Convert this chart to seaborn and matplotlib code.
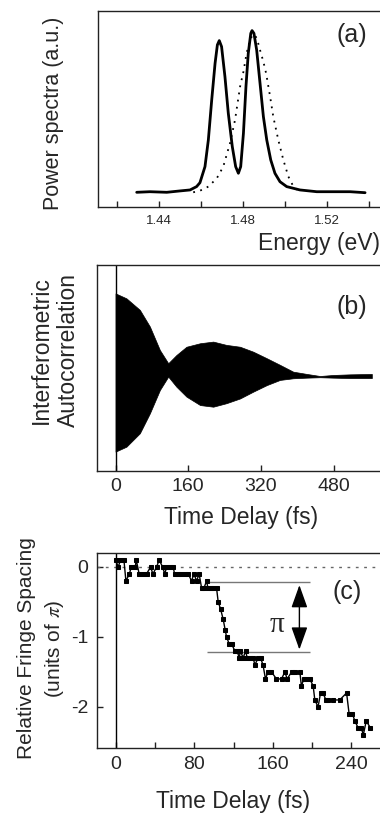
import matplotlib
matplotlib.use("Agg")
import matplotlib.pyplot as plt
import numpy as np
import pandas as pd
import seaborn as sns

# ---- panel (a): power spectra ----
energy_solid = [1.4294, 1.4357, 1.4437, 1.4500, 1.4548, 1.4579, 1.4595, 1.4619, 1.4635, 1.4651,
                1.4667, 1.4678, 1.4687, 1.4698, 1.4714, 1.4730, 1.4749, 1.4765, 1.4778, 1.4789,
                1.4802, 1.4814, 1.4825, 1.4837, 1.4843, 1.4852, 1.4865, 1.4881, 1.4897, 1.4913,
                1.4932, 1.4952, 1.4976, 1.5008, 1.5071, 1.5151, 1.5230, 1.5310, 1.5381]
power_solid = [0.075, 0.078, 0.075, 0.082, 0.087, 0.104, 0.124, 0.206, 0.342, 0.546,
               0.733, 0.827, 0.849, 0.818, 0.665, 0.478, 0.308, 0.206, 0.172, 0.206,
               0.376, 0.614, 0.784, 0.886, 0.900, 0.886, 0.801, 0.631, 0.461, 0.342,
               0.240, 0.172, 0.129, 0.104, 0.087, 0.078, 0.078, 0.078, 0.073]
energy_dotted = [1.4563, 1.4595, 1.4635, 1.4675, 1.4706, 1.4738, 1.4762, 1.4786, 1.4802, 1.4817,
                 1.4833, 1.4846, 1.4857, 1.4868, 1.4881, 1.4897, 1.4910, 1.4929, 1.4944, 1.4968,
                 1.4992, 1.5016, 1.5040, 1.5071]
power_dotted = [0.075, 0.083, 0.104, 0.146, 0.206, 0.325, 0.444, 0.614, 0.690, 0.784,
                0.852, 0.878, 0.878, 0.852, 0.801, 0.741, 0.682, 0.563, 0.461, 0.342,
                0.240, 0.155, 0.104, 0.078]

# ---- panel (b): fringe envelope of the autocorrelation ----
delay_b = [0, 24, 53.5, 75.6, 97.6, 116, 134, 156, 186, 215, 244, 274, 303, 333, 362,
           391, 421, 450, 479, 516, 564]
upper_b = [0.862, 0.838, 0.782, 0.701, 0.587, 0.523, 0.563, 0.603, 0.620, 0.628, 0.612,
           0.603, 0.579, 0.547, 0.515, 0.482, 0.471, 0.461, 0.466, 0.469, 0.471]
lower_b = [0.094, 0.118, 0.183, 0.280, 0.393, 0.458, 0.409, 0.361, 0.320, 0.312, 0.329,
           0.352, 0.385, 0.417, 0.442, 0.450, 0.453, 0.455, 0.453, 0.451, 0.451]

# ---- panel (c): relative fringe spacing (units of pi) ----
delay_c = [0, 2.7, 5, 8.5, 10.5, 14, 16, 20, 21, 24, 28, 31.5, 35.6, 38, 41.7, 44.4, 47.8,
           50, 52, 55, 58.6, 60, 63.7, 67, 70.5, 74, 77.3, 79.7, 82.4, 85, 87.5, 90, 92.5,
           94, 96.6, 99, 102.7, 104.4, 106.8, 109.5, 111.5, 112.9, 115.6, 118, 121.4, 123.7,
           125.8, 127, 129.8, 132.2, 134, 136.6, 140, 141.7, 145, 147.5, 150, 152.5, 155,
           158.6, 163.7, 168.8, 172.2, 174.6, 179, 182.4, 187.5, 189, 191.5, 194, 197.6, 201,
           202.7, 206, 208.5, 211, 214, 216, 221, 228, 235, 237.6, 241, 243.4, 246.8, 250,
           252, 255, 259.3]
spacing_c = [0.1, 0.0, 0.1, 0.1, -0.2, -0.1, 0.0, 0.0, 0.1, -0.1, -0.1, -0.1, 0.0, -0.1, 0.0,
             0.1, 0.0, -0.1, 0.0, 0.0, 0.0, -0.1, -0.1, -0.1, -0.1, -0.1, -0.2, -0.1, -0.2, -0.1,
             -0.3, -0.3, -0.2, -0.3, -0.3, -0.3, -0.3, -0.5, -0.6, -0.75, -0.9, -1.0, -1.1, -1.1,
             -1.2, -1.2, -1.3, -1.2, -1.3, -1.2, -1.3, -1.3, -1.3, -1.4, -1.3, -1.3, -1.4, -1.6,
             -1.5, -1.5, -1.6, -1.6, -1.5, -1.6, -1.5, -1.5, -1.5, -1.7, -1.6, -1.6, -1.6, -1.7,
             -1.9, -2.0, -1.8, -1.8, -1.9, -1.9, -1.9, -1.9, -1.8, -2.1, -2.1, -2.2, -2.3, -2.3,
             -2.4, -2.2, -2.3]
pi_levels = [-0.22, -1.22]     # the two guide lines
pi_span = [93, 198]

sns.set_style("ticks")
plt.rcParams['font.family'] = ['Liberation Sans', 'DejaVu Sans']
plt.rcParams['mathtext.fontset'] = 'stix'
plt.rcParams['axes.unicode_minus'] = False
plt.rcParams['axes.linewidth'] = 1.0
plt.rcParams['axes.edgecolor'] = '#222222'

fig = plt.figure(figsize=(3.8, 8.14), dpi=100)
ax_a = fig.add_axes([0.258, 0.7457, 0.742, 0.2408])
ax_b = fig.add_axes([0.255, 0.4214, 0.745, 0.2531])
ax_c = fig.add_axes([0.255, 0.0811, 0.745, 0.2396])

for ax in (ax_a, ax_b, ax_c):
    ax.spines['right'].set_visible(False)
    ax.tick_params(direction='in', length=4, width=1, which='both', color='#222222')

# (a)
sns.lineplot(x=energy_solid, y=power_solid, ax=ax_a, color='black', lw=2.0, sort=False)
sns.lineplot(x=energy_dotted, y=power_dotted, ax=ax_a, color='black', lw=1.3,
             linestyle=(0, (1, 3)), sort=False)
ax_a.set_xlim(1.411, 1.5452)
ax_a.set_ylim(0, 1)
ax_a.set_yticks([])
ax_a.set_xticks([1.44, 1.48, 1.52])
ax_a.set_xticks([1.42, 1.46, 1.50, 1.54], minor=True)
ax_a.set_xticklabels(['1.44', '1.48', '1.52'])
ax_a.tick_params(axis='x', labelsize=9.5, pad=6)
ax_a.set_ylabel('Power spectra (a.u.)', fontsize=15.5)
ax_a.yaxis.set_label_coords(-0.12, 0.48)
ax_a.set_xlabel('Energy (eV)', fontsize=16.5, loc='right')
ax_a.xaxis.set_label_coords(1.0, -0.13)
ax_a.text(0.90, 0.878, '(a)', transform=ax_a.transAxes, fontsize=18, ha='center', va='center')

# (b)
ax_b.fill_between(delay_b, lower_b, upper_b, color='black', lw=0.5)
ax_b.axvline(0, color='black', lw=1)
ax_b.set_xlim(-41, 582)
ax_b.set_ylim(0, 1)
ax_b.set_yticks([])
ax_b.set_xticks([0, 160, 320, 480])
ax_b.tick_params(axis='x', labelsize=14, pad=5)
ax_b.set_ylabel('Interferometric\nAutocorrelation', fontsize=16.5, linespacing=1.2)
ax_b.yaxis.set_label_coords(-0.06, 0.587)
ax_b.set_xlabel('Time Delay (fs)', fontsize=16.5)
ax_b.xaxis.set_label_coords(0.51, -0.17)
ax_b.text(0.901, 0.796, '(b)', transform=ax_b.transAxes, fontsize=18, ha='center', va='center')

# (c)
ax_c.axhline(0, color='#666666', lw=1, linestyle=(0, (2, 4)))
ax_c.axvline(0, color='black', lw=1)
for lvl in pi_levels:
    ax_c.hlines(lvl, pi_span[0], pi_span[1], color='#777777', lw=1)
sns.lineplot(x=delay_c, y=spacing_c, ax=ax_c, color='black', lw=1.0, marker='s',
             markersize=3.2, markeredgecolor='black', sort=False)
ax_c.annotate('', xy=(187, pi_levels[0]), xytext=(187, pi_levels[1]),
              arrowprops=dict(arrowstyle='<|-|>,head_length=0.7,head_width=0.25',
                              color='black', lw=1, mutation_scale=20,
                              shrinkA=2, shrinkB=2))
ax_c.text(164, -0.83, 'π', fontsize=21, ha='center', va='center', family='Liberation Serif')
ax_c.set_xlim(-19, 269)
ax_c.set_ylim(-2.586, 0.2)
ax_c.set_xticks([0, 80, 160, 240])
ax_c.set_xticks([40, 120, 200], minor=True)
ax_c.set_yticks([0, -1, -2])
ax_c.set_yticklabels(['0', '-1', '-2'])
ax_c.tick_params(axis='both', labelsize=14, pad=6)
ax_c.set_ylabel('Relative Fringe Spacing\n(units of $\\pi$)', fontsize=15, linespacing=1.4)
ax_c.yaxis.set_label_coords(-0.11, 0.51)
ax_c.set_xlabel('Time Delay (fs)', fontsize=16.5)
ax_c.xaxis.set_label_coords(0.48, -0.215)
ax_c.text(0.883, 0.80, '(c)', transform=ax_c.transAxes, fontsize=18, ha='center', va='center')

fig.savefig('out.png', dpi=100)
